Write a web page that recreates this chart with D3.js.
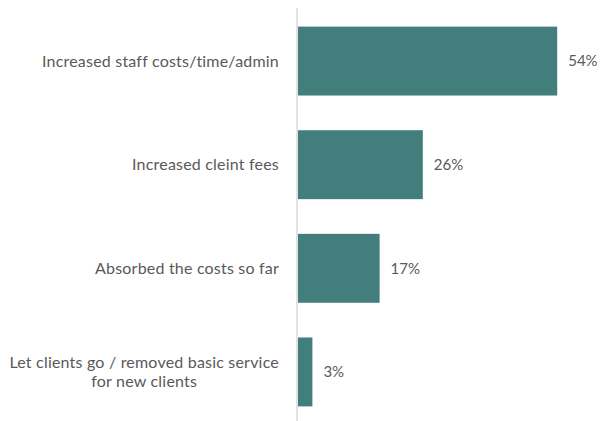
<!DOCTYPE html>
<meta charset="utf-8">
<html>
<head>
<script src="https://d3js.org/d3.v7.min.js"></script>
<style>
body { margin: 0; background: #fff; }
text { font-family: Lato, "Open Sans", sans-serif; fill: #595959; }
</style>
</head>
<body>
<div id="chart"></div>
<script>
var categories = ["Increased staff costs/time/admin", "Increased cleint fees", "Absorbed the costs so far", "Let clients go / removed basic service|for new clients"];
var values = [54, 26, 17, 3];

var width = 614, height = 421;
var svg = d3.select("#chart").append("svg")
    .attr("width", width)
    .attr("height", height);

var x = d3.scaleLinear()
    .domain([0, 60])
    .range([298, 586]);

var y = d3.scaleBand()
    .domain(categories)
    .range([9, 424])
    .paddingInner(0.335)
    .paddingOuter(0.17);

// bars
svg.selectAll("rect")
    .data(values)
    .enter()
    .append("rect")
      .attr("x", x(0))
      .attr("y", function(d, i) { return y(categories[i]); })
      .attr("width", function(d) { return x(d) - x(0); })
      .attr("height", y.bandwidth())
      .style("fill", "#417e7c");

// axis line
svg.append("line")
    .attr("x1", x(0) - 1)
    .attr("x2", x(0) - 1)
    .attr("y1", 8)
    .attr("y2", 421)
    .attr("stroke", "#d9d9d9")
    .attr("stroke-width", 1.5);

// value labels
svg.selectAll(".val")
    .data(values)
    .enter()
    .append("text")
      .attr("class", "val")
      .attr("x", function(d) { return x(d) + 11; })
      .attr("y", function(d, i) { return y(categories[i]) + y.bandwidth() / 2; })
      .attr("dy", "0.35em")
      .style("font-size", "15px")
      .text(function(d) { return d + "%"; });

// category labels
var lab = svg.selectAll(".cat")
    .data(categories)
    .enter()
    .append("text")
      .attr("class", "cat")
      .attr("text-anchor", "middle")
      .style("font-size", "16px")
      .style("letter-spacing", "0.2px")
      .attr("y", function(d) { return y(d) + y.bandwidth() / 2; });

lab.each(function(d) {
  var lines = d.split("|");
  var t = d3.select(this);
  lines.forEach(function(l, j) {
    t.append("tspan")
      .attr("x", 0)
      .attr("dy", j == 0 ? (0.35 - (lines.length - 1) * 0.6) + "em" : "1.2em")
      .text(l);
  });
});

// right-align single lines, centre wrapped lines on the widest
lab.each(function() {
  var t = d3.select(this);
  var w = this.getBBox().width;
  t.selectAll("tspan").attr("x", 279 - w / 2);
});
</script>
</body>
</html>
